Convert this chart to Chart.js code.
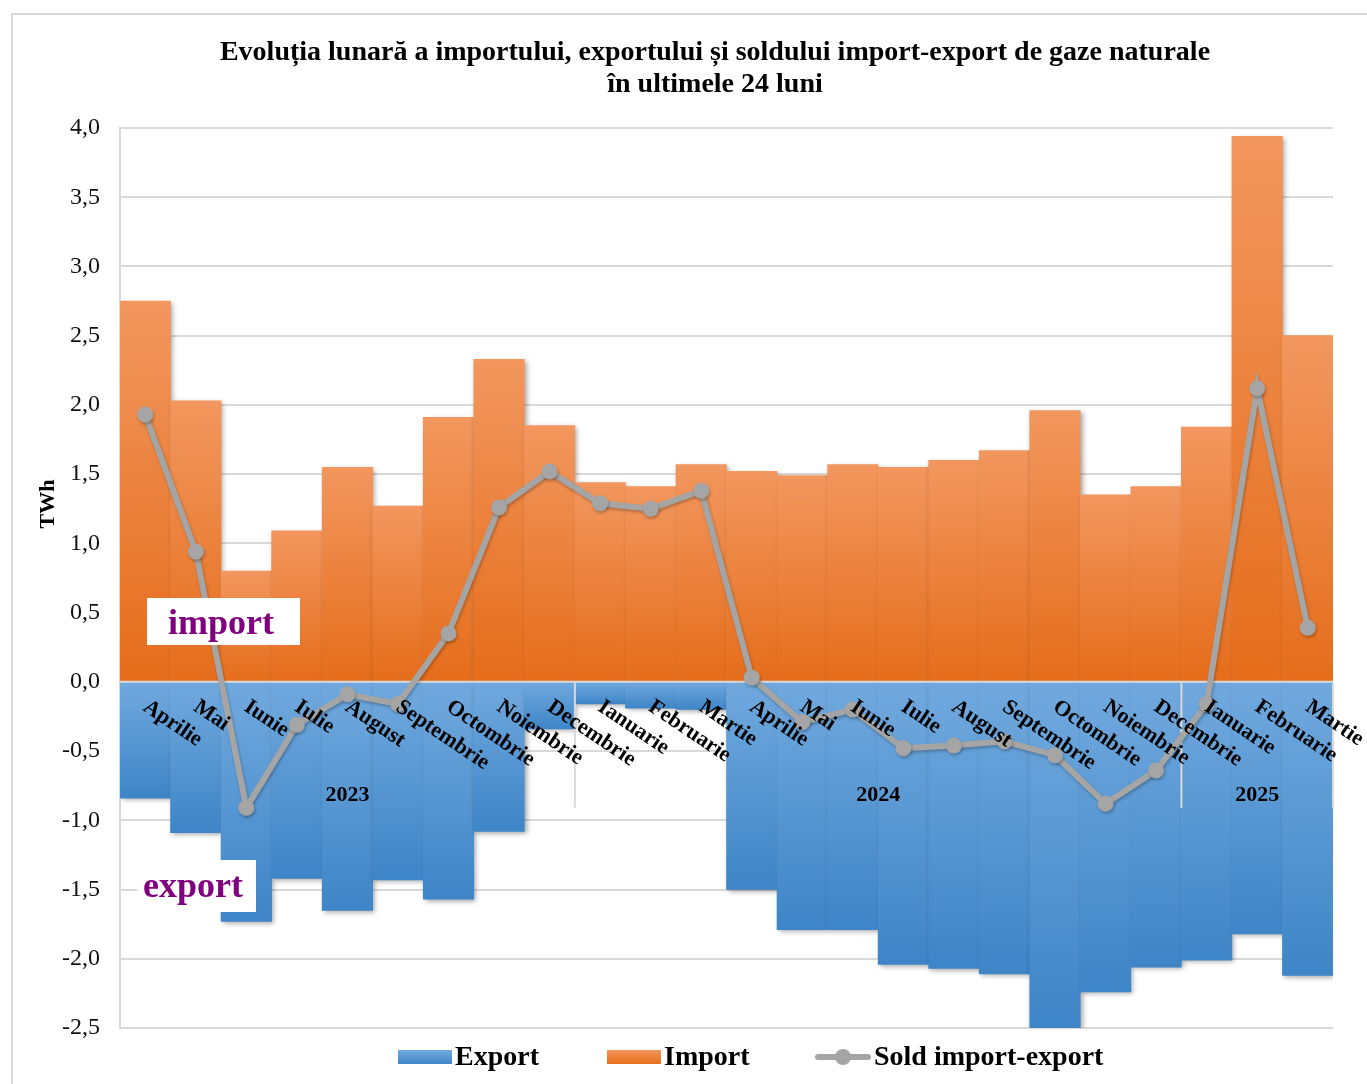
<!DOCTYPE html>
<html lang="ro">
<head>
<meta charset="utf-8">
<title>Import / export gaze naturale</title>
<script src="https://cdn.jsdelivr.net/npm/chart.js@4/dist/chart.umd.min.js"></script>
<style>
  body { margin: 0; background: #fff; }
  #wrap { width: 1367px; height: 1084px; }
</style>
</head>
<body>
<div id="wrap"><canvas id="gasChart" width="1367" height="1084"></canvas></div>
<script>
// months Aprilie 2023 .. Martie 2025
const months = ["Aprilie", "Mai", "Iunie", "Iulie", "August", "Septembrie", "Octombrie", "Noiembrie", "Decembrie",
  "Ianuarie", "Februarie", "Martie", "Aprilie", "Mai", "Iunie", "Iulie", "August", "Septembrie", "Octombrie",
  "Noiembrie", "Decembrie", "Ianuarie", "Februarie", "Martie"];

const importTWh = [2.75, 2.03, 0.80, 1.09, 1.55, 1.27, 1.91, 2.33, 1.85,
  1.44, 1.41, 1.57, 1.52, 1.49, 1.57, 1.55, 1.60, 1.67, 1.96, 1.35, 1.41,
  1.84, 3.94, 2.50];

const exportTWh = [-0.84, -1.09, -1.73, -1.42, -1.65, -1.43, -1.57, -1.08, -0.34,
  -0.16, -0.19, -0.20, -1.50, -1.79, -1.79, -2.04, -2.07, -2.11, -2.50, -2.24, -2.06,
  -2.01, -1.82, -2.12];

const soldTWh = [1.93, 0.94, -0.91, -0.31, -0.09, -0.16, 0.35, 1.26, 1.52,
  1.29, 1.25, 1.38, 0.03, -0.29, -0.20, -0.48, -0.46, -0.43, -0.53, -0.88, -0.64,
  -0.16, 2.12, 0.39];

// year groups: label, first and last month index
const yearGroups = [
  { label: "2023", from: 0, to: 8 },
  { label: "2024", from: 9, to: 20 },
  { label: "2025", from: 21, to: 23 }
];

const SERIF = "'Liberation Serif', 'Times New Roman', serif";

// gradient per bar, light end at the top
function barFill(context, light, dark) {
  const chart = context.chart;
  const y = chart.scales.y;
  if (!y || context.raw == null || !chart.chartArea) return dark;
  const p0 = y.getPixelForValue(0);
  const p1 = y.getPixelForValue(context.raw);
  const top = Math.min(p0, p1), bottom = Math.max(p0, p1) + 0.01;
  const g = chart.ctx.createLinearGradient(0, top, 0, bottom);
  g.addColorStop(0, light);
  g.addColorStop(1, dark);
  return g;
}

const extras = {
  id: "extras",
  beforeDraw(chart) {
    const ctx = chart.ctx;
    ctx.save();
    ctx.fillStyle = "#fff";
    ctx.fillRect(0, 0, chart.width, chart.height);
    ctx.strokeStyle = "#d9d9d9";
    ctx.lineWidth = 2;
    ctx.strokeRect(12, 14, 1400, 1100);
    ctx.restore();
  },
  beforeDatasetDraw(chart, args) {
    const ctx = chart.ctx;
    ctx.save();
    if (args.index < 2) {
      ctx.shadowColor = "rgba(0,0,0,0.35)";
      ctx.shadowBlur = 5;
      ctx.shadowOffsetX = 2;
      ctx.shadowOffsetY = 2;
    } else {
      drawAxisLines(chart);
      ctx.shadowColor = "rgba(0,0,0,0.25)";
      ctx.shadowBlur = 3;
      ctx.shadowOffsetX = 1;
      ctx.shadowOffsetY = 2;
    }
  },
  afterDatasetDraw(chart) {
    chart.ctx.restore();
  },
  afterDatasetsDraw(chart) {
    drawCategoryLabels(chart);
  },
  afterDraw(chart) {
    const ctx = chart.ctx;
    ctx.save();
    // title
    ctx.fillStyle = "#000";
    ctx.textAlign = "center";
    ctx.textBaseline = "middle";
    ctx.font = "bold 28px " + SERIF;
    ctx.fillText("Evoluția lunară a importului, exportului și soldului import-export de gaze naturale", 715, 53);
    ctx.fillText("în ultimele 24 luni", 715, 85);

    // y axis title
    ctx.save();
    ctx.translate(48, 504);
    ctx.rotate(-Math.PI / 2);
    ctx.font = "bold 22px " + SERIF;
    ctx.fillText("TWh", 0, 0);
    ctx.restore();

    // text boxes
    ctx.fillStyle = "#fff";
    ctx.fillRect(147, 598, 153, 47);
    ctx.fillRect(137, 860, 119, 52);
    ctx.fillStyle = "#800080";
    ctx.font = "bold 36px " + SERIF;
    ctx.textAlign = "left";
    ctx.fillText("import", 168, 625);
    ctx.fillText("export", 143, 888);

    // legend
    const ly = 1057;
    ctx.font = "bold 28px " + SERIF;
    let g = ctx.createLinearGradient(0, ly - 7, 0, ly + 7);
    g.addColorStop(0, "#72aadf"); g.addColorStop(1, "#3f86c8");
    ctx.fillStyle = g;
    ctx.fillRect(398, ly - 7, 54, 14);
    g = ctx.createLinearGradient(0, ly - 7, 0, ly + 7);
    g.addColorStop(0, "#f3955d"); g.addColorStop(1, "#e8701e");
    ctx.fillStyle = g;
    ctx.fillRect(607, ly - 7, 54, 14);
    ctx.strokeStyle = "#a5a5a5";
    ctx.lineWidth = 6;
    ctx.lineCap = "round";
    ctx.beginPath(); ctx.moveTo(818, ly); ctx.lineTo(868, ly); ctx.stroke();
    ctx.fillStyle = "#a5a5a5";
    ctx.beginPath(); ctx.arc(843, ly, 8, 0, Math.PI * 2); ctx.fill();
    ctx.fillStyle = "#000";
    ctx.fillText("Export", 455, ly + 1);
    ctx.fillText("Import", 664, ly + 1);
    ctx.fillText("Sold import-export", 874, ly + 1);
    ctx.restore();
  }
};

// category axis at the 0 line: axis line and year separators
function drawAxisLines(chart) {
  const ctx = chart.ctx;
  const x = chart.scales.x;
  const y0 = chart.scales.y.getPixelForValue(0);
  const area = chart.chartArea;
  ctx.save();
  ctx.strokeStyle = "#d9d9d9";
  ctx.lineWidth = 2;
  ctx.beginPath();
  ctx.moveTo(area.left, y0);
  ctx.lineTo(area.right, y0);
  ctx.stroke();
  const half = (x.getPixelForValue(1) - x.getPixelForValue(0)) / 2;
  yearGroups.forEach((grp, k) => {
    const right = k === yearGroups.length - 1 ? area.right : x.getPixelForValue(grp.to) + half;
    ctx.beginPath();
    ctx.moveTo(right, y0);
    ctx.lineTo(right, y0 + 126);
    ctx.stroke();
  });
  ctx.restore();
}

// month names and years
function drawCategoryLabels(chart) {
  const ctx = chart.ctx;
  const x = chart.scales.x;
  const y0 = chart.scales.y.getPixelForValue(0);
  const half = (x.getPixelForValue(1) - x.getPixelForValue(0)) / 2;
  ctx.save();
  ctx.fillStyle = "#000";
  ctx.font = "bold 22px " + SERIF;
  ctx.textAlign = "center";
  ctx.textBaseline = "middle";
  yearGroups.forEach((grp) => {
    const left = x.getPixelForValue(grp.from) - half;
    const right = x.getPixelForValue(grp.to) + half;
    ctx.fillText(grp.label, (left + right) / 2, y0 + 113);
  });

  ctx.textAlign = "left";
  ctx.textBaseline = "top";
  const ang = 34 * Math.PI / 180;
  months.forEach((m, i) => {
    ctx.save();
    ctx.translate(x.getPixelForValue(i) + 6, y0 + 14);
    ctx.rotate(ang);
    ctx.fillText(m, 0, 0);
    ctx.restore();
  });
  ctx.restore();
}

new Chart(document.getElementById("gasChart"), {
  type: "bar",
  data: {
    labels: months,
    datasets: [
      {
        label: "Import",
        data: importTWh,
        backgroundColor: (c) => barFill(c, "#f2975f", "#e56d1b"),
        grouped: false,
        barPercentage: 1,
        categoryPercentage: 1,
        order: 3
      },
      {
        label: "Export",
        data: exportTWh,
        backgroundColor: (c) => barFill(c, "#71a9de", "#3e85c7"),
        grouped: false,
        barPercentage: 1,
        categoryPercentage: 1,
        order: 2
      },
      {
        type: "line",
        label: "Sold import-export",
        data: soldTWh,
        borderColor: "#a5a5a5",
        backgroundColor: "#a5a5a5",
        borderWidth: 6,
        pointRadius: 8,
        pointBorderWidth: 0,
        pointBackgroundColor: "#a5a5a5",
        tension: 0,
        order: 1
      }
    ]
  },
  options: {
    responsive: false,
    animation: false,
    devicePixelRatio: 1,
    layout: { padding: { top: 128, right: 34, bottom: 56, left: 0 } },
    plugins: {
      legend: { display: false },
      title: { display: false },
      tooltip: { enabled: false }
    },
    scales: {
      x: {
        display: false,
        offset: true
      },
      y: {
        min: -2.5,
        max: 4,
        afterFit: (s) => { s.width = 120; },
        ticks: {
          stepSize: 0.5,
          padding: 20,
          color: "#111",
          font: { family: SERIF, size: 24 },
          callback: (v) => v.toFixed(1).replace(".", ",")
        },
        grid: { color: "#d9d9d9", lineWidth: 2, drawTicks: false },
        border: { display: true, color: "#d9d9d9", width: 2 }
      }
    }
  },
  plugins: [extras]
});
</script>
</body>
</html>
